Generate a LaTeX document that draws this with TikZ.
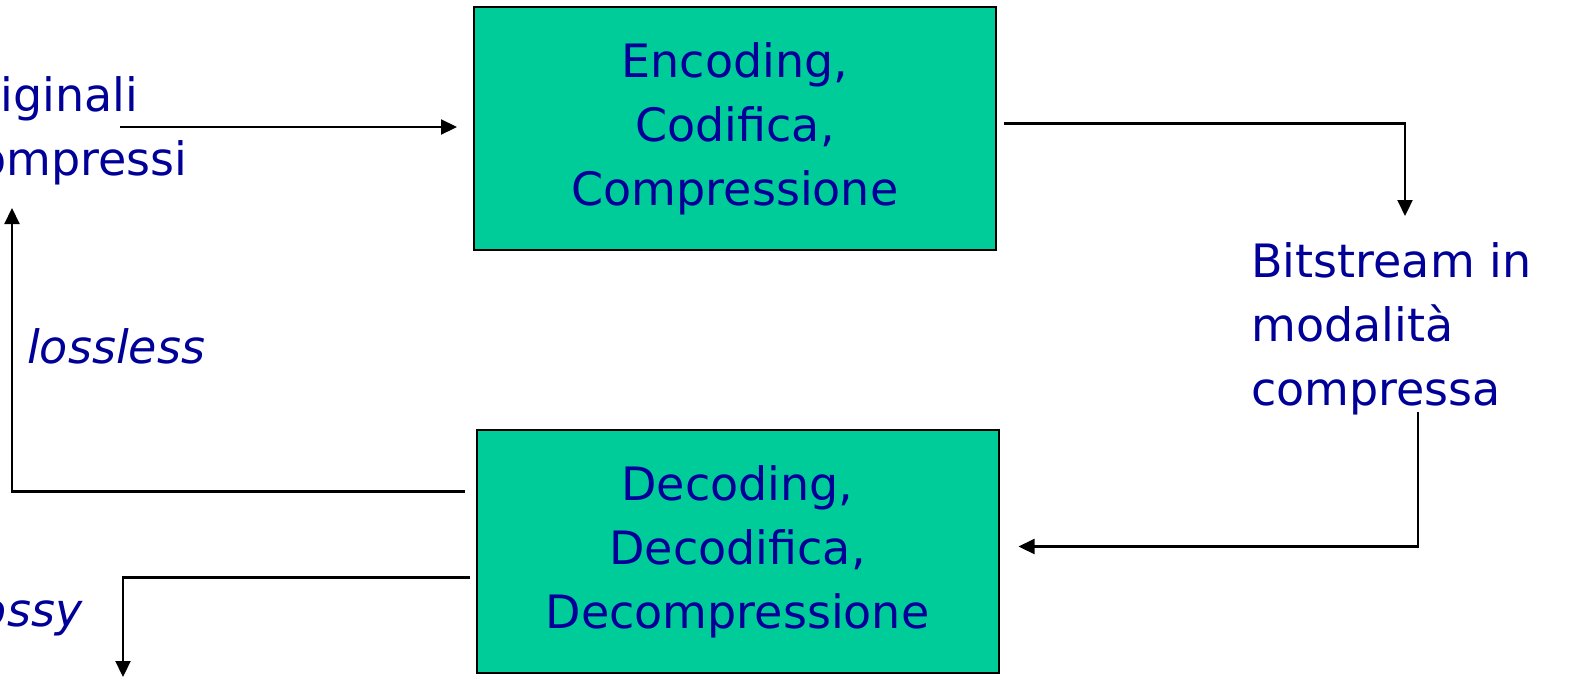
\documentclass[tikz,border=0pt]{standalone}
\usepackage{fontspec}
\setmainfont{DejaVu Sans}
\usetikzlibrary{arrows.meta}
\usepackage{xcolor}

\definecolor{boxgreen}{HTML}{00CC99}
\definecolor{txtblue}{HTML}{000099}

\begin{document}
\begin{tikzpicture}[x=1pt,y=-1pt,
          every node/.style={text=txtblue, font=\fontsize{46}{64}\selectfont},
          blockbox/.style={draw=black, line width=2pt, fill=boxgreen,
            minimum width=522pt, minimum height=243pt, align=center, inner sep=0pt},
          lbl/.style={align=left, inner sep=0pt, anchor=base west},
          conn/.style={draw=black, line width=2.2pt, -{Triangle[length=16pt,width=15pt]}}]
          \useasboundingbox (0,0) rectangle (1573,678);
          \clip (0,0) rectangle (1573,678);
          % blocchi
          \node[blockbox] (enc) at (735,128.5) {Encoding,\\Codifica,\\Compressione};
          \node[blockbox] (dec) at (737.5,551.5) {Decoding,\\Decodifica,\\Decompressione};
          % testi
          \node[lbl] (orig) at (-47,175) {originali\\compressi};
          \node[lbl] (bits) at (1251,405) {Bitstream in\\modalit\`a\\compressa};
          \node[lbl, font=\fontsize{46}{64}\selectfont\itshape] (lossless) at (27,363) {lossless};
          \node[lbl, font=\fontsize{46}{64}\selectfont\itshape] (lossy) at (-34,626) {lossy};
          % estremi liberi
          \coordinate (srcout) at (120,127);
          \coordinate (bitin) at (1405,216);
          \coordinate (bitout) at (1418,412);
          \coordinate (origup) at (12,208);
          \coordinate (lossyout) at (123,677);
          % connessioni
          \draw[conn, shorten >=16pt] (srcout) -- (srcout -| enc.west);
          \draw[conn] ([shift={(7,-5)}]enc.east) -| (bitin);
          \draw[conn] (bitout) |- ([shift={(19,-5)}]dec.east);
          \draw[conn] ([shift={(-11,-60)}]dec.west) -| (origup);
          \draw[conn] ([shift={(-6,26)}]dec.west) -| (lossyout);
        \end{tikzpicture}
\end{document}
